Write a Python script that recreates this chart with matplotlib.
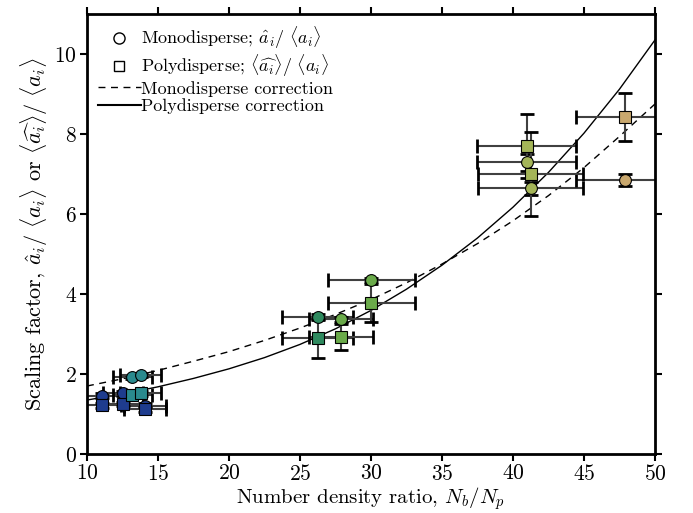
import matplotlib
matplotlib.use('Agg')
import matplotlib.pyplot as plt
from matplotlib.lines import Line2D

plt.rcParams['font.family'] = 'serif'
plt.rcParams['font.serif'] = ['cmr10']
plt.rcParams['mathtext.fontset'] = 'cm'
plt.rcParams['axes.formatter.use_mathtext'] = True

# simulations: number density ratio with spread
sim_x = [11.08, 12.56, 14.08, 13.2, 13.78, 26.24, 27.89, 30.03, 40.96, 41.24, 47.9]
sim_xerr = [1.3, 1.4, 1.5, 1.37, 1.45, 2.49, 2.25, 3.06, 3.47, 3.72, 3.47]

# monodisperse scaling factor a_hat / <a>
mono_y = [1.46, 1.52, 1.21, 1.93, 1.975, 3.42, 3.37, 4.35, 7.29, 6.64, 6.85]
mono_yerr = [0.06, 0.06, 0.06, 0.05, 0.05, 0.07, 0.06, 0.05, 0.21, 0.17, 0.14]

# polydisperse scaling factor <a_hat> / <a>
poly_y = [1.22, 1.25, 1.12, 1.475, 1.52, 2.89, 2.92, 3.78, 7.70, 7.0, 8.43]
poly_yerr = [0.06, 0.06, 0.06, 0.06, 0.06, 0.48, 0.32, 0.47, 0.8, 1.06, 0.6]

sim_colors = ['#1e3c8e', '#1e3c8e', '#1e3c8e', '#2a8a8e', '#2a8a8e', '#2f8a5f',
              '#6aaa4a', '#6aaa4a', '#a4b558', '#a4b558', '#c9a86e']

# correction curves
curve_x = [10, 12.5, 15, 17.5, 20, 22.5, 25, 27.5, 30, 32.5, 35, 37.5, 40, 42.5, 45, 47.5, 50]
mono_corr = [1.70, 1.88, 2.09, 2.32, 2.56, 2.84, 3.15, 3.49, 3.86, 4.28, 4.75, 5.26,
             5.83, 6.46, 7.16, 7.94, 8.75]
poly_corr = [1.35, 1.50, 1.68, 1.89, 2.13, 2.41, 2.74, 3.13, 3.59, 4.12, 4.72, 5.40,
             6.17, 7.04, 8.02, 9.12, 10.35]

fig = plt.figure(figsize=(6.93, 5.13), dpi=100)
ax = fig.add_axes([0.1255, 0.115, 0.8195, 0.8575])

ax.plot(curve_x, mono_corr, 'k--', lw=1, dashes=(5, 4), zorder=1.5)
ax.plot(curve_x, poly_corr, 'k-', lw=1, zorder=1.5)

for ys, yerrs in [(mono_y, mono_yerr), (poly_y, poly_yerr)]:
    for i in range(len(sim_x)):
        _, caps, _ = ax.errorbar(sim_x[i], ys[i], xerr=sim_xerr[i], yerr=yerrs[i],
                                 fmt='none', ecolor='0.25', elinewidth=1.5,
                                 capsize=5, capthick=2, zorder=2)
        for c in caps:
            c.set_markeredgecolor('k')

for i in range(len(sim_x)):
    ax.plot(sim_x[i], mono_y[i], 'o', ms=8.5, mfc=sim_colors[i], mec='k', mew=0.8, zorder=3)
for i in range(len(sim_x)):
    ax.plot(sim_x[i], poly_y[i], 's', ms=8, mfc=sim_colors[i], mec='k', mew=0.8, zorder=4)

ax.set_xlim(10, 50)
ax.set_ylim(0, 11)
ax.set_xticks(range(10, 51, 5))
ax.set_yticks(range(0, 11, 2))
ax.tick_params(direction='out', length=5, width=1.5, labelsize=15.5, pad=2,
               top=True, right=True)
for s in ax.spines.values():
    s.set_linewidth(2)

ax.set_xlabel(r'Number density ratio, $N_b/N_p$', fontsize=15, labelpad=1)
ax.set_ylabel(r'Scaling factor, $\hat{a}_i/\ \langle a_i\rangle$ or '
              r'$\langle\widehat{a_i}\rangle/\ \langle a_i\rangle$', fontsize=16, labelpad=3)

handles = [
    Line2D([], [], ls='none', marker='o', mfc='w', mec='k', ms=8),
    Line2D([], [], ls='none', marker='s', mfc='w', mec='k', ms=7.5),
    Line2D([], [], color='k', ls='--', lw=1, dashes=(5, 4)),
    Line2D([], [], color='k', ls='-', lw=1.5),
]
labels = [r'Monodisperse; $\hat{a}_i/\ \langle a_i\rangle$',
          r'Polydisperse; $\langle\widehat{a_i}\rangle/\ \langle a_i\rangle$',
          'Monodisperse correction', 'Polydisperse correction']
ax.legend(handles, labels, loc='upper left', frameon=False, fontsize=13,
          handlelength=2.4, handletextpad=0.0, labelspacing=0.08,
          borderaxespad=0.2)

fig.savefig('out.png', dpi=100)
